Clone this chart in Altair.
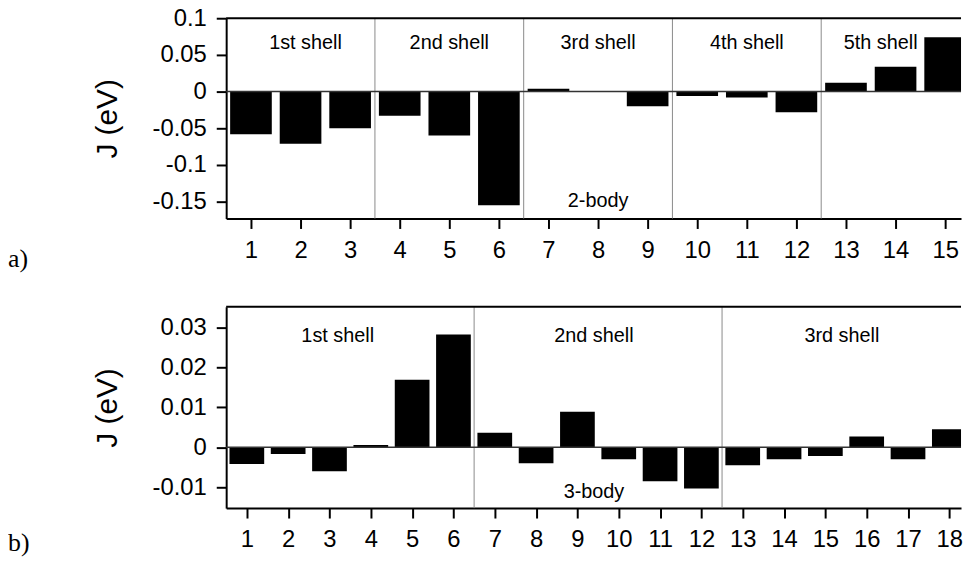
import altair as alt
import pandas as pd

# ---------------- data ----------------
idx_a = list(range(1, 16))
J_a = [-0.058, -0.071, -0.050, -0.033, -0.060, -0.155, 0.004, 0.0, -0.020,
       -0.006, -0.008, -0.028, 0.012, 0.034, 0.074]

idx_b = list(range(1, 19))
J_b = [-0.0042, -0.0017, -0.0060, 0.0006, 0.0169, 0.0282, 0.0036, -0.0040, 0.0089,
       -0.0030, -0.0085, -0.0103, -0.0045, -0.0030, -0.0022, 0.0027, -0.0030, 0.0045]

yticks_a = [-0.15, -0.1, -0.05, 0, 0.05, 0.1]
yticks_b = [-0.01, 0, 0.01, 0.02, 0.03]

shell_bounds_a = [3.5, 6.5, 9.5, 12.5]
shell_labels_a = ["1st shell", "2nd shell", "3rd shell", "4th shell", "5th shell"]
shell_label_x_a = [2.1, 5.0, 8.0, 11.0, 13.7]

shell_bounds_b = [6.5, 12.5]
shell_labels_b = ["1st shell", "2nd shell", "3rd shell"]
shell_label_x_b = [3.2, 9.4, 15.4]

FONT = "Liberation Sans"


def panel(idx, vals, xdom, ydom, yticks, bounds, labels, label_x, label_y,
          body_text, body_x, body_y, tag, width, height, tag_y):
    df = pd.DataFrame({"n": idx, "J": vals})
    xs = alt.Scale(domain=xdom, nice=False, zero=False)
    ys = alt.Scale(domain=ydom, nice=False, zero=False)
    xaxis = alt.Axis(values=idx, format="d", grid=False, labelAngle=0,
                     domainColor="black", domainWidth=2, tickColor="black",
                     tickWidth=2, tickSize=10, labelFontSize=24, labelFont=FONT,
                     labelColor="black", labelPadding=10, labelFlush=False,
                     labelOverlap=False, title=None)
    yaxis = alt.Axis(values=yticks, labelExpr="'' + datum.value", grid=False,
                     domainColor="black", domainWidth=2, tickColor="black",
                     tickWidth=2, tickSize=10, labelFontSize=24, labelFont=FONT,
                     labelColor="black", labelPadding=10, labelFlush=False,
                     labelOverlap=False, minExtent=81, maxExtent=81,
                     title="J (eV)", titleFont=FONT, titleFontSize=30,
                     titleFontWeight="normal", titleColor="black", titlePadding=24)

    bars = alt.Chart(df).transform_calculate(
        x0="datum.n - 0.42", x1="datum.n + 0.42"
    ).mark_bar(color="black", clip=True).encode(
        x=alt.X("x0:Q", scale=xs, axis=xaxis),
        x2="x1:Q",
        y=alt.Y("J:Q", scale=ys, axis=yaxis),
        y2=alt.datum(0),
    )

    zero = alt.Chart(pd.DataFrame({"z": [0]})).mark_rule(
        color="#333333", strokeWidth=1.5
    ).encode(y=alt.Y("z:Q", scale=ys, axis=yaxis))

    top = alt.Chart(pd.DataFrame({"t": [ydom[1]]})).mark_rule(
        color="black", strokeWidth=2
    ).encode(y=alt.Y("t:Q", scale=ys, axis=yaxis))

    seps = alt.Chart(pd.DataFrame({"b": bounds})).mark_rule(
        color="#8a8a8a", strokeWidth=1
    ).encode(x=alt.X("b:Q", scale=xs, axis=xaxis))

    lab_df = pd.DataFrame({"x": label_x, "y": [label_y] * len(labels), "t": labels})
    labs = alt.Chart(lab_df).mark_text(
        font=FONT, fontSize=20, baseline="alphabetic", align="center", color="black"
    ).encode(x=alt.X("x:Q", scale=xs, axis=xaxis),
             y=alt.Y("y:Q", scale=ys, axis=yaxis), text="t:N")

    body = alt.Chart(pd.DataFrame({"x": [body_x], "y": [body_y], "t": [body_text]})).mark_text(
        font=FONT, fontSize=20, baseline="alphabetic", align="center", color="black"
    ).encode(x=alt.X("x:Q", scale=xs, axis=xaxis),
             y=alt.Y("y:Q", scale=ys, axis=yaxis), text="t:N")

    tagc = alt.Chart(pd.DataFrame({"t": [tag]})).mark_text(
        font="Liberation Serif", fontSize=26, baseline="alphabetic", align="left",
        color="black"
    ).encode(x=alt.value(-220), y=alt.value(tag_y), text="t:N")

    return alt.layer(bars, seps, zero, top, labs, body, tagc).properties(
        width=width, height=height
    )


W = 741
chart_a = panel(idx_a, J_a, [0.5, 0.5 + W / 50.0], [-0.173, 0.1], yticks_a,
                shell_bounds_a, shell_labels_a, shell_label_x_a, 0.058,
                "2-body", 8, -0.157, "a)", W, 202, 251)
chart_b = panel(idx_b, J_b, [0.5, 0.5 + W / 41.67], [-0.0152, 0.0351], yticks_b,
                shell_bounds_b, shell_labels_b, shell_label_x_b, 0.0262,
                "3-body", 9.4, -0.0127, "b)", W, 203, 246)

chart = alt.vconcat(chart_a, chart_b, spacing=89, bounds="flush").properties(
    padding={"top": -4, "left": 0, "right": 0, "bottom": 0}
).configure_view(stroke=None).configure_axisY(
    titleFontSize=30, titleFont=FONT, titleFontWeight="normal", titleColor="black"
)

chart.save("out.html", embed_options={"renderer": "svg", "actions": False})
